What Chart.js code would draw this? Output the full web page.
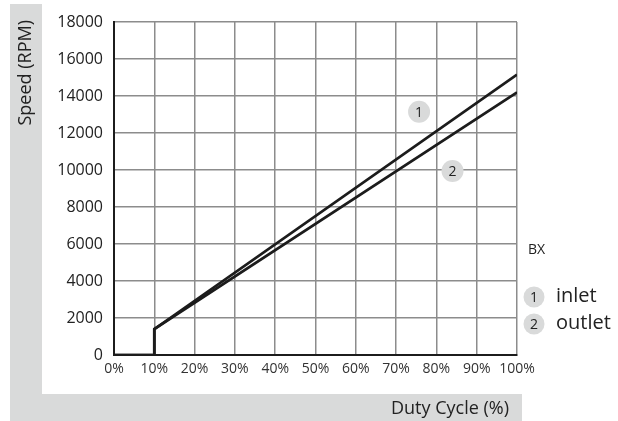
<!DOCTYPE html>
<html>
<head>
<meta charset="utf-8">
<script src="https://cdn.jsdelivr.net/npm/chart.js@4.4.0/dist/chart.umd.min.js"></script>
<style>
  html, body { margin: 0; padding: 0; background: #fff; }
  #wrap { width: 618px; height: 421px; position: relative; }
</style>
</head>
<body>
<div id="wrap"><canvas id="speedChart" width="618" height="421"></canvas></div>
<script>
// duty cycle ticks (%) and speed ticks (rpm)
const xTicks = [0, 10, 20, 30, 40, 50, 60, 70, 80, 90, 100];
const yTicks = [0, 2000, 4000, 6000, 8000, 10000, 12000, 14000, 16000, 18000];

// curves: off below 10%, then a jump and a straight rise
const dutyPoints = [0, 10, 10, 100];
const inletSpeed = [0, 0, 1400, 15150];
const outletSpeed = [0, 0, 1400, 14200];

// where the numbered tags sit on the plot
const tagNames = ["1", "2"];
const tagDuty = [75.7, 84];
const tagSpeed = [13150, 9950];

const seriesNames = ["inlet", "outlet"];

const CHART = document.getElementById("speedChart");
const FONT = "'Open Sans', sans-serif";
const BAND = "#d9dada";

function pts(xs, ys) {
    return xs.map((x, i) => ({ x: x, y: ys[i] }));
}

const decor = {
    id: 'decor',
    beforeDraw(chart) {
        const c = chart.ctx;
        c.save();
        c.fillStyle = BAND;
        c.fillRect(10, 4, 32, 390);
        c.fillRect(10, 394, 512, 27);
        c.restore();
    },
    afterDatasetsDraw(chart) {
        const c = chart.ctx;
        const xs = chart.scales.x, ys = chart.scales.y;
        c.save();
        c.fillStyle = "#222";
        c.textAlign = "center";
        c.textBaseline = "middle";
        c.font = "14px " + FONT;
        tagNames.forEach((t, i) => {
            c.fillText(t, xs.getPixelForValue(tagDuty[i]), ys.getPixelForValue(tagSpeed[i]) + 1);
        });

        // axis titles in the grey band
        c.font = "18px " + FONT;
        c.fillStyle = "#222";
        c.save();
        c.translate(26, 20);
        c.rotate(-Math.PI / 2);
        c.textAlign = "right";
        c.fillText("Speed (RPM)", 0, 0);
        c.restore();
        c.textAlign = "right";
        c.font = "18px " + FONT;
        c.fillText("Duty Cycle (%)", 509, 409);

        // side note and legend
        c.textAlign = "left";
        c.font = "14px " + FONT;
        c.fillText("BX", 528, 250);
        seriesNames.forEach((s, i) => {
            const cy = 297 + i * 27;
            c.fillStyle = BAND;
            c.beginPath();
            c.arc(534, cy, 10.5, 0, Math.PI * 2);
            c.fill();
            c.fillStyle = "#222";
            c.textAlign = "center";
            c.font = "14px " + FONT;
            c.fillText(String(i + 1), 534, cy + 1);
            c.textAlign = "left";
            c.font = "20px " + FONT;
            c.fillText(s, 556, cy - 1);
        });
        c.restore();
    }
};

let speedChart = new Chart(CHART, {
    type: 'scatter',
    data: {
        datasets: [
            {
                label: "tags",
                data: pts(tagDuty, tagSpeed),
                showLine: false,
                pointRadius: 11,
                pointBackgroundColor: BAND,
                pointBorderWidth: 0,
                order: 0
            },
            {
                label: seriesNames[0],
                data: pts(dutyPoints, inletSpeed),
                showLine: true,
                borderColor: "#1c1c1c",
                borderWidth: 2.7,
                pointRadius: 0,
                fill: false,
                order: 1
            },
            {
                label: seriesNames[1],
                data: pts(dutyPoints, outletSpeed),
                showLine: true,
                borderColor: "#1c1c1c",
                borderWidth: 2.7,
                pointRadius: 0,
                fill: false,
                order: 1
            }
        ]
    },
    options: {
        responsive: false,
        animation: false,
        layout: { padding: { left: 0, top: 22, right: 101, bottom: 0 } },
        plugins: { legend: { display: false }, tooltip: { enabled: false } },
        scales: {
            x: {
                type: 'linear',
                min: 0, max: 100,
                afterFit(scale) { scale.height = 66; },
                afterBuildTicks(scale) { scale.ticks = xTicks.map(v => ({ value: v })); },
                ticks: {
                    callback: v => v + "%",
                    font: { family: FONT, size: 14 },
                    color: "#333",
                    padding: 6,
                    autoSkip: false,
                    maxRotation: 0
                },
                grid: { color: "#8c8c8c", lineWidth: 1.5, drawTicks: false },
                border: { color: "#1c1c1c", width: 2 }
            },
            y: {
                min: 0, max: 18000,
                afterFit(scale) { scale.width = 114; },
                afterBuildTicks(scale) { scale.ticks = yTicks.map(v => ({ value: v })); },
                ticks: {
                    callback: v => String(v),
                    font: { family: FONT, size: 16 },
                    color: "#222",
                    padding: 11
                },
                grid: { color: "#8c8c8c", lineWidth: 1.5, drawTicks: false },
                border: { color: "#1c1c1c", width: 2 }
            }
        }
    },
    plugins: [decor]
});
</script>
</body>
</html>
